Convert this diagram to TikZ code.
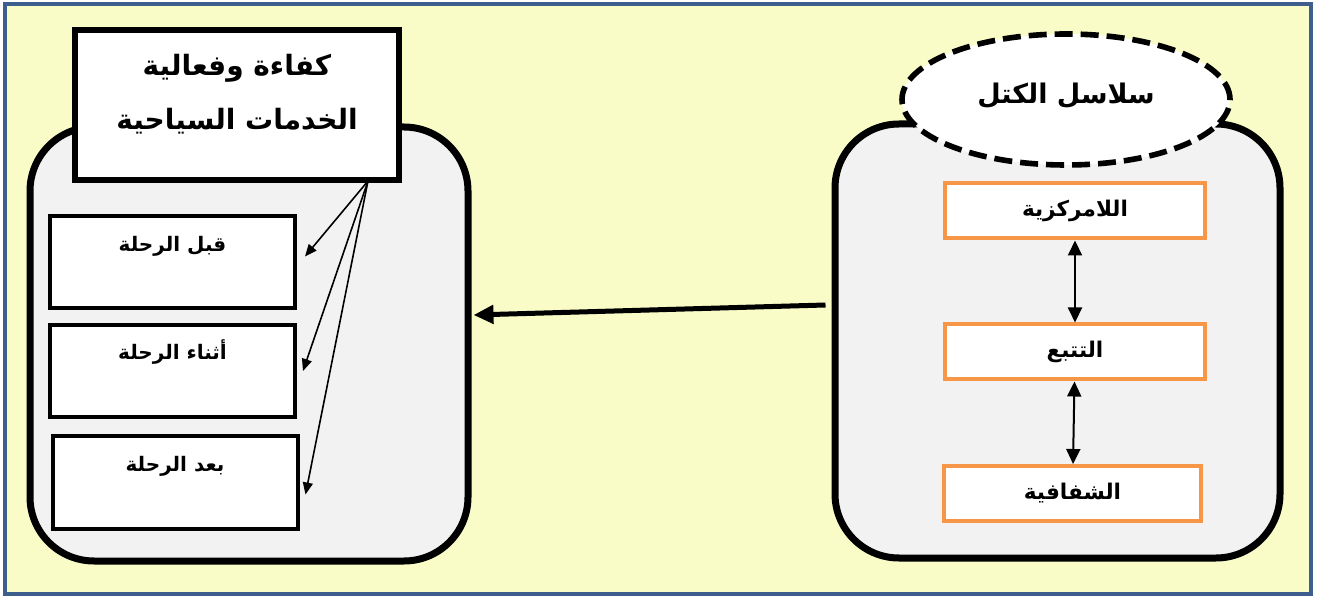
\documentclass[tikz,border=0pt]{standalone}
\usepackage{fontspec}
\newfontfamily\arabicfont[Script=Arabic]{DejaVu Sans}
\TeXXeTstate=1
\usetikzlibrary{positioning}
\usetikzlibrary{arrows.meta}
\usetikzlibrary{shapes.geometric}
\definecolor{paper}{RGB}{250,252,200}
\definecolor{rim}{RGB}{62,95,142}
\definecolor{panelgray}{RGB}{242,242,242}
\definecolor{accent}{RGB}{247,150,70}

% bold right-to-left label
\newcommand{\artxt}[1]{{\arabicfont\bfseries\beginR #1\endR}}

\begin{document}
\begin{tikzpicture}[x=0.5pt, y=-0.5pt,
    panel/.style={draw, line width=3.5pt, fill=panelgray, rounded corners=32pt, inner sep=0pt},
    stagebox/.style={draw, line width=2pt, fill=white, inner sep=0pt,
        minimum width=122.5pt, text height=17.5pt, text depth=28.5pt, font=\fontsize{10}{12}\selectfont},
    feature/.style={draw=accent, line width=2pt, fill=white, inner sep=0pt,
        minimum width=130pt, minimum height=27.5pt, font=\fontsize{10.8}{13}\selectfont},
    fanarrow/.style={-{Triangle[length=6pt,width=5pt]}, line width=0.8pt},
    link/.style={{Triangle[length=7.5pt,width=7pt]}-{Triangle[length=7.5pt,width=7pt]}, line width=1pt},
    bigarrow/.style={-{Triangle[length=10pt,width=9pt]}, line width=2.5pt}]
    \useasboundingbox (0,0) rectangle (1317,598);
    \draw[rim, line width=2pt, fill=paper] (5,4) rectangle (1311,594);

    % left side: tourism services
    \node[panel, minimum width=219pt, minimum height=217pt] (services) at (249,344) {};
    \node[draw, line width=3pt, fill=white, minimum width=162pt, minimum height=75pt,
        label={[align=center, yshift=5.5pt, font=\fontsize{14}{27}\arabicfont\bfseries]center:%
        \beginR كفاءة وفعالية\endR\\\beginR الخدمات السياحية\endR}] (title) at (237,105) {};
    \node[stagebox] (before) at (172.5,262.5) {\artxt{قبل الرحلة}};
    \node[stagebox] (during) at (172.5,371) {\artxt{أثناء الرحلة}};
    \node[stagebox] (after) at (175,482.5) {\artxt{بعد الرحلة}};
    \coordinate (fan) at (368,181);
    \draw[fanarrow] (fan) -- ([xshift=4pt,yshift=3pt]before.east);
    \draw[fanarrow] (fan) -- ([xshift=3pt]during.east);
    \draw[fanarrow] (fan) -- ([xshift=3pt,yshift=-6pt]after.east);

    % right side: blockchain
    \node[panel, minimum width=222.5pt, minimum height=217pt] (chain) at (1057.5,341) {};
    \node[ellipse, draw, line width=2.8pt, dash pattern=on 9pt off 4pt, fill=white,
        minimum width=164pt, minimum height=65.5pt, text depth=6pt, font=\fontsize{13.5}{16}\selectfont]
        (blockchain) at (1066,99.5) {\artxt{سلاسل الكتل}};
    \node[feature] (decentral) at (1075,211) {\artxt{اللامركزية}};
    \node[feature] (tracking) at (1075,352) {\artxt{التتبع}};
    \node[feature, minimum width=128.5pt] (transparency) at (1072.5,493.5) {\artxt{الشفافية}};
    \draw[link] (decentral) -- (tracking);
    \draw[link] (tracking) -- (transparency);

    \draw[bigarrow] ([xshift=-3pt,yshift=18pt]chain.west) -- ([xshift=1pt,yshift=14.5pt]services.east);
\end{tikzpicture}
\end{document}
